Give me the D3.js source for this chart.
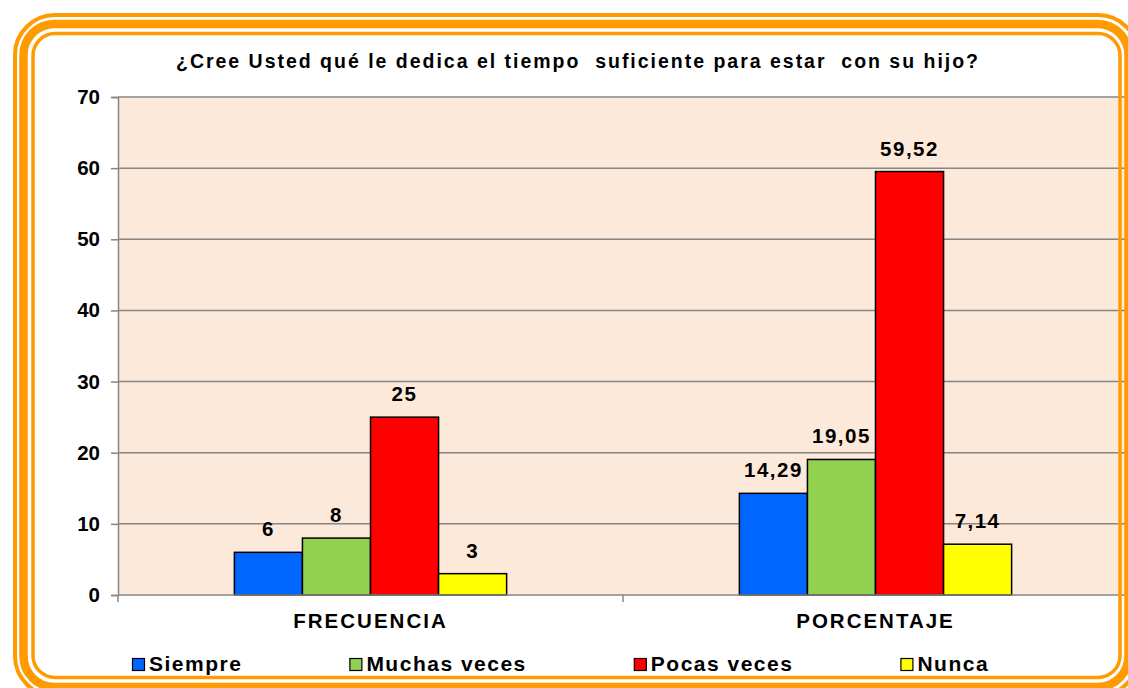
<!DOCTYPE html>
<html>
<head>
<meta charset="utf-8">
<script src="https://cdn.jsdelivr.net/npm/d3@7"></script>
<style>
  body { margin: 0; background: #fff; }
  svg { display: block; font-family: "Liberation Sans", Arial, sans-serif; font-weight: bold; }
</style>
</head>
<body>
<svg id="chart" width="1128" height="688"></svg>
<script>
// data
const categories = ["FRECUENCIA", "PORCENTAJE"]
const series = ["Siempre", "Muchas veces", "Pocas veces", "Nunca"]
const colours = ["#0066FF", "#92D050", "#FF0000", "#FFFF00"]
const frecuencia = [6, 8, 25, 3]
const porcentaje = [14.29, 19.05, 59.52, 7.14]
const yTicks = [0, 10, 20, 30, 40, 50, 60, 70]
const title = "¿Cree Usted qué le dedica el tiempo  suficiente para estar  con su hijo?"

const values = [frecuencia, porcentaje]

let svg = d3.select("#chart"),
    margin = {left: 118, right: 0, top: 97, bottom: 93},
    width = +svg.attr("width") - margin.left - margin.right,
    height = +svg.attr("height") - margin.top - margin.bottom

let x0 = d3.scaleBand()
           .domain(categories)
           .range([0, width])

let x1 = d3.scaleBand()
           .domain(series)
           .range([0, x0.bandwidth()])
           .paddingOuter(1.71)

let y = d3.scaleLinear()
          .domain([0, 70])
          .range([height, 0])

const fmt = v => String(v).replace(".", ",")
const grey = "#868686"

svg.append("text")
   .attr("x", 577)
   .attr("y", 68)
   .attr("text-anchor", "middle")
   .attr("font-size", 19.5)
   .attr("textLength", 802)
   .attr("lengthAdjust", "spacing")
   .style("white-space", "pre")
   .text(title)

let focus = svg.append("g")
               .attr("transform", "translate(" + margin.left + "," + margin.top + ")")

// plot area
focus.append("rect")
     .attr("width", width)
     .attr("height", height)
     .attr("fill", "#FDE9D9")

// gridlines
focus.selectAll(".grid")
     .data(yTicks.filter(d => d > 0))
     .enter()
     .append("line")
     .attr("x1", 0)
     .attr("x2", width)
     .attr("y1", d => y(d))
     .attr("y2", d => y(d))
     .attr("stroke", grey)
     .attr("stroke-width", 1.5)

// bars
let groups = focus.selectAll(".group")
                  .data(categories)
                  .enter()
                  .append("g")
                  .attr("transform", d => "translate(" + x0(d) + ",0)")

groups.selectAll("rect")
      .data((c, i) => series.map((s, j) => ({s: s, v: values[i][j], c: colours[j]})))
      .enter()
      .append("rect")
      .attr("x", d => x1(d.s))
      .attr("y", d => y(d.v))
      .attr("width", x1.bandwidth())
      .attr("height", d => y(0) - y(d.v))
      .attr("fill", d => d.c)
      .attr("stroke", "#000")
      .attr("stroke-width", 1.5)

groups.selectAll(".label")
      .data((c, i) => series.map((s, j) => ({s: s, v: values[i][j]})))
      .enter()
      .append("text")
      .attr("x", d => x1(d.s) + x1.bandwidth() / 2)
      .attr("y", d => y(d.v) - 16)
      .attr("text-anchor", "middle")
      .attr("font-size", 20.5)
      .attr("letter-spacing", 1.5)
      .text(d => fmt(d.v))

// y axis
let yAxis = focus.append("g")
                 .call(d3.axisLeft(y).tickValues(yTicks).tickSize(7).tickPadding(11))
yAxis.select(".domain").attr("stroke", grey).attr("stroke-width", 1.5)
yAxis.selectAll(".tick line").attr("stroke", grey).attr("stroke-width", 1.5)
yAxis.selectAll(".tick text")
     .attr("font-size", 20.5)
     .attr("font-family", "Liberation Sans, Arial, sans-serif")
     .attr("font-weight", "bold")
     .attr("fill", "#000")

// x axis: line, ticks at category boundaries, labels centred
focus.append("line")
     .attr("x1", 0)
     .attr("x2", width)
     .attr("y1", height)
     .attr("y2", height)
     .attr("stroke", grey)
     .attr("stroke-width", 1.5)

let bounds = categories.map(c => x0(c)).concat([x0(categories[categories.length - 1]) + x0.bandwidth()])
focus.selectAll(".xtick")
     .data(bounds)
     .enter()
     .append("line")
     .attr("x1", d => d)
     .attr("x2", d => d)
     .attr("y1", height)
     .attr("y2", height + 7)
     .attr("stroke", grey)
     .attr("stroke-width", 1.5)

focus.selectAll(".xlabel")
     .data(categories)
     .enter()
     .append("text")
     .attr("x", d => x0(d) + x0.bandwidth() / 2)
     .attr("y", height + 33)
     .attr("text-anchor", "middle")
     .attr("font-size", 20.5)
     .attr("letter-spacing", 2)
     .text(d => d)

// legend, laid out from measured text widths
let legend = svg.append("g").attr("transform", "translate(132,0)")
let lx = 0
series.forEach((s, i) => {
  let g = legend.append("g").attr("transform", "translate(" + lx + ",0)")
  g.append("rect")
   .attr("x", 0.5)
   .attr("y", 658.5)
   .attr("width", 12)
   .attr("height", 12)
   .attr("fill", colours[i])
   .attr("stroke", "#000")
   .attr("stroke-width", 1.2)
  let t = g.append("text")
           .attr("x", 17)
           .attr("y", 671)
           .attr("font-size", 21)
           .attr("letter-spacing", 1.5)
           .text(s)
  lx += 17 + t.node().getComputedTextLength() + 107
})

// orange rounded frame drawn on top
const orange = "#FF9A00"
const frame = [
  {x: 15, y: 15, w: 1123, h: 681, sw: 4, r: 40},
  {x: 23.5, y: 24, w: 1105, h: 663, sw: 8.5, r: 31},
  {x: 33, y: 33.5, w: 1087, h: 644, sw: 3.5, r: 22}
]
svg.selectAll(".frame")
   .data(frame)
   .enter()
   .append("rect")
   .attr("x", d => d.x)
   .attr("y", d => d.y)
   .attr("width", d => d.w)
   .attr("height", d => d.h)
   .attr("rx", d => d.r)
   .attr("fill", "none")
   .attr("stroke", orange)
   .attr("stroke-width", d => d.sw)
</script>
</body>
</html>
